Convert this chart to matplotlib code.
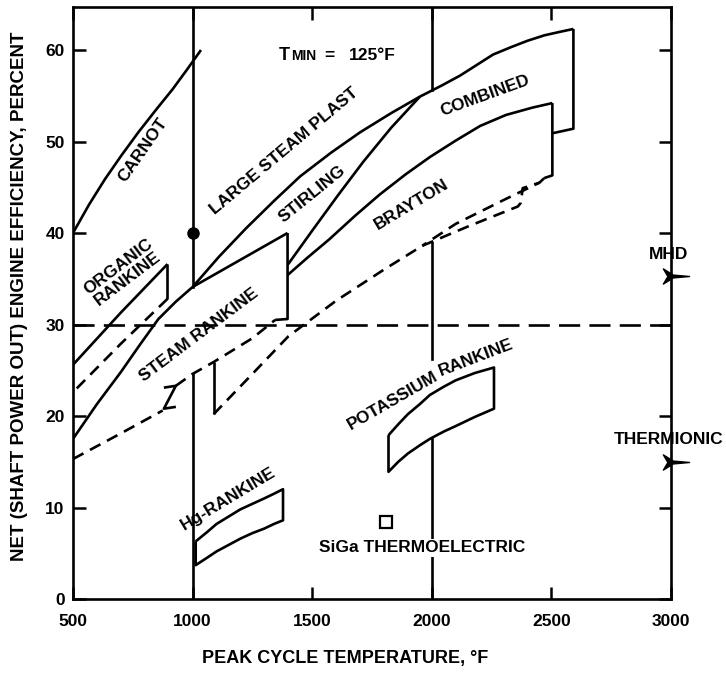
import matplotlib
matplotlib.use("Agg")
import matplotlib.pyplot as plt
from matplotlib.path import Path
from matplotlib.transforms import offset_copy

plt.rcParams['font.family'] = ['Liberation Sans', 'DejaVu Sans']
plt.rcParams['font.weight'] = 'bold'

# ---------------- data (peak cycle temperature degF, efficiency %) ----------------
carnot_T = [500, 567, 634, 703, 773, 845, 916, 975, 1035]
carnot_E = [40.0, 43.1, 45.9, 48.5, 51.0, 53.4, 55.7, 57.8, 60.0]

organic_top_T = [500, 700, 895]
organic_top_E = [25.6, 31.3, 36.6]
organic_right_T = [895, 895]
organic_right_E = [36.6, 32.8]
organic_low_T = [895, 700, 500]
organic_low_E = [32.8, 27.9, 22.6]

# steam rankine top / large steam plant / combined upper curve
lsp_T = [500, 600, 700, 780, 857, 930, 1000, 1110, 1223, 1340, 1450, 1580, 1700, 1830,
         1950, 2040, 2118, 2190, 2256, 2330, 2399, 2470, 2538, 2592]
lsp_E = [17.5, 21.3, 24.8, 27.8, 30.6, 32.5, 34.1, 37.4, 40.5, 43.5, 46.2, 48.8, 51.0, 53.1,
         54.9, 56.1, 57.2, 58.4, 59.5, 60.3, 61.0, 61.6, 62.0, 62.3]

steam_top_T = [1000, 1397]
steam_top_E = [34.1, 40.0]
steam_right_T = [1397, 1397, 1345]
steam_right_E = [40.0, 30.6, 30.5]
steam_low1_T = [500, 700, 875]
steam_low1_E = [15.3, 18.1, 20.6]
zbreak_T = [880, 930, 880, 930]
zbreak_E = [23.1, 23.3, 20.8, 21.0]
steam_low2_T = [930, 1000, 1088, 1250, 1345]
steam_low2_E = [23.3, 24.6, 25.9, 28.5, 30.5]

stirling_top_T = [1397, 1504, 1610, 1714, 1830, 1950]
stirling_top_E = [36.5, 40.4, 44.2, 47.8, 51.5, 54.9]
stirling_step_T = [1088, 1088]
stirling_step_E = [25.9, 20.2]
stirling_low_T = [1088, 1250, 1400, 1600, 1800, 1960, 2150, 2360, 2372, 2380, 2450]
stirling_low_E = [20.2, 24.6, 28.7, 32.6, 36.0, 38.6, 40.7, 42.9, 43.3, 44.9, 45.5]

brayton_top_T = [1397, 1480, 1571, 1680, 1782, 1890, 1992, 2100, 2202, 2310, 2420, 2504]
brayton_top_E = [35.4, 37.3, 39.3, 41.9, 44.2, 46.4, 48.3, 50.1, 51.7, 52.9, 53.7, 54.2]
brayton_right_T = [2504, 2504, 2470]
brayton_right_E = [54.2, 46.3, 46.0]
brayton_low_T = [2470, 2450, 2300, 2100, 1960]
brayton_low_E = [46.0, 45.5, 43.6, 41.0, 38.6]

combined_right_T = [2592, 2592, 2504]
combined_right_E = [62.3, 51.4, 50.9]

hg_T = [1013, 1060, 1100, 1150, 1200, 1250, 1300, 1340, 1378]
hg_up = [6.3, 7.3, 8.2, 9.0, 9.8, 10.4, 11.0, 11.5, 12.0]
hg_lo = [3.7, 4.5, 5.2, 5.9, 6.6, 7.2, 7.7, 8.2, 8.6]

k_T = [1819, 1860, 1900, 1950, 1992, 2050, 2100, 2180, 2260]
k_up = [17.9, 19.1, 20.2, 21.3, 22.3, 23.2, 23.9, 24.7, 25.3]
k_lo = [13.9, 15.0, 15.9, 16.8, 17.5, 18.3, 18.9, 19.9, 20.8]

siga_T, siga_E = [1810], [8.4]
mhd_T, mhd_E = [3000], [35.3]
thermionic_T, thermionic_E = [3000], [15.0]
dot_T, dot_E = [1000], [40.0]

tmin_line_T = [500, 3000]
tmin_line_E = [30.0, 30.0]

grid_1000 = [(0, 24.6), (34.1, 70)]
grid_2000 = [(0, 17.5), (26.2, 38.9), (55.6, 70)]

x_ticks = [500, 1000, 1500, 2000, 2500, 3000]
y_ticks = [0, 10, 20, 30, 40, 50, 60]

region_labels = [
    ("CARNOT", 790, 49.1, 55),
    ("LARGE STEAM PLAST", 1382, 48.9, 40),
    ("STIRLING", 1500, 44.3, 39),
    ("COMBINED", 2223, 55.0, 20),
    ("BRAYTON", 1916, 43.1, 31),
    ("ORGANIC\nRANKINE", 710, 35.7, 37),
    ("STEAM RANKINE", 1025, 28.9, 37),
    ("Hg-RANKINE", 1150, 10.9, 31),
    ("POTASSIUM", 1838, 21.7, 30),
    ("RANKINE", 2185, 26.4, 21),
]

# ---------------- figure ----------------
fig = plt.figure(figsize=(7.26, 6.75), dpi=100)
L, R, B, T = 73, 671, 599, 7
ax = fig.add_axes([L / 726, (675 - B) / 675, (R - L) / 726, (B - T) / 675])
ax.set_xlim(500, 3000)
ax.set_ylim(0, 64.7)

lw = 1.9
k = 'black'
dash = (0, (4.5, 2.8))

def solid(x, y):
    ax.plot(x, y, color=k, lw=lw, solid_capstyle='butt', solid_joinstyle='round')

def dashed(x, y):
    ax.plot(x, y, color=k, lw=lw, linestyle=dash)

# gridlines
for (a, b) in grid_1000:
    ax.plot([1000, 1000], [a, b], color=k, lw=lw)
for (a, b) in grid_2000:
    ax.plot([2000, 2000], [a, b], color=k, lw=lw)

ax.plot(tmin_line_T, tmin_line_E, color=k, lw=lw, linestyle=(0, (8, 3.5)))

solid(carnot_T, carnot_E)
solid(organic_top_T, organic_top_E)
solid(organic_right_T, organic_right_E)
dashed(organic_low_T, organic_low_E)
solid(lsp_T, lsp_E)
solid(steam_top_T, steam_top_E)
solid(steam_right_T, steam_right_E)
dashed(steam_low1_T, steam_low1_E)
solid(zbreak_T, zbreak_E)
dashed(steam_low2_T, steam_low2_E)
solid(stirling_top_T, stirling_top_E)
solid(stirling_step_T, stirling_step_E)
dashed(stirling_low_T, stirling_low_E)
solid(brayton_top_T, brayton_top_E)
solid(brayton_right_T, brayton_right_E)
dashed(brayton_low_T, brayton_low_E)
solid(combined_right_T, combined_right_E)

# Hg box
solid(hg_T + hg_T[::-1] + [hg_T[0]], hg_up + hg_lo[::-1] + [hg_up[0]])
# Potassium box
solid(k_T + k_T[::-1] + [k_T[0]], k_up + k_lo[::-1] + [k_up[0]])

ax.plot(dot_T, dot_E, 'o', color=k, ms=8)
ax.plot(siga_T, siga_E, 's', mfc='white', mec=k, mew=1.6, ms=9)

jet = Path([(1.0, 0.0), (0.1, 0.08), (-0.45, 0.42), (-0.2, 0.0), (-0.45, -0.42), (0.1, -0.08), (1.0, 0.0)],
           [Path.MOVETO] + [Path.LINETO] * 5 + [Path.CLOSEPOLY])
ax.plot(mhd_T, mhd_E, marker=jet, color=k, ms=26, clip_on=False, zorder=5)
ax.plot(thermionic_T, thermionic_E, marker=jet, color=k, ms=26, clip_on=False, zorder=5)

fs = 12.5
for txt, x, y, rot in region_labels:
    ax.text(x, y, txt, rotation=rot, ha='center', va='center', fontsize=fs,
            rotation_mode='anchor', linespacing=1.0)

ax.text(1960, 5.6, "SiGa THERMOELECTRIC", ha='center', va='center', fontsize=fs,
        bbox=dict(facecolor='white', edgecolor='none', pad=1.0))
ax.text(2990, 37.6, "MHD", ha='center', va='center', fontsize=fs, clip_on=False)
ax.text(2990, 17.4, "THERMIONIC", ha='center', va='center', fontsize=fs, clip_on=False)

# T_MIN annotation
base = ax.transData
ax.text(1360, 58.9, "T", fontsize=13, ha='left', va='baseline', transform=base)
ax.text(1360, 58.9, "MIN", fontsize=10, ha='left', va='baseline',
        transform=offset_copy(base, fig=fig, x=12, y=0, units='dots'))
ax.text(1360, 58.9, "=", fontsize=12.5, ha='left', va='baseline',
        transform=offset_copy(base, fig=fig, x=46, y=0, units='dots'))
ax.text(1360, 58.9, "125°F", fontsize=12.5, ha='left', va='baseline',
        transform=offset_copy(base, fig=fig, x=70, y=0, units='dots'))

# axes styling
for s in ax.spines.values():
    s.set_linewidth(1.9)
ax.set_xticks(x_ticks)
ax.set_yticks(y_ticks)
ax.tick_params(direction='in', length=9, width=1.8, top=True, right=True,
               labelsize=12.5)
ax.tick_params(axis='x', pad=11)
ax.tick_params(axis='y', pad=6)
for lab in ax.get_xticklabels() + ax.get_yticklabels():
    lab.set_fontweight('bold')

fig.text(345 / 726, 1 - 658 / 675, "PEAK CYCLE TEMPERATURE, °F", ha='center', va='center',
         fontsize=13)
fig.text(20 / 726, 1 - 296 / 675, "NET (SHAFT POWER OUT) ENGINE EFFICIENCY, PERCENT",
         rotation=90, ha='center', va='center', fontsize=13.5)

fig.savefig("out.png", dpi=100)
